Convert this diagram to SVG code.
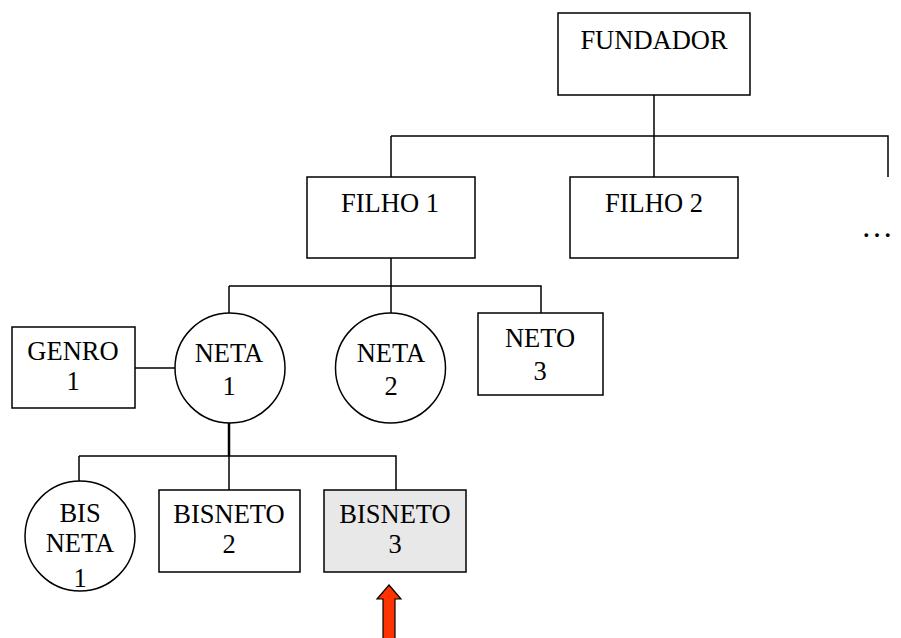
<svg xmlns="http://www.w3.org/2000/svg" width="901" height="638" viewBox="0 0 901 638">
<style>
.box{fill:#fff;stroke:#000;stroke-width:1.5}
.hl{fill:#e8e8e8;stroke:#000;stroke-width:1.5}
.ln{fill:none;stroke:#000;stroke-width:1.5}
text{font-family:"Liberation Serif","Times New Roman",serif;font-size:26.5px;fill:#000;text-anchor:middle}
</style>
<rect width="901" height="638" fill="#fff"/>
<g id="connectors">
<path class="ln" d="M654 95V136M391 136H888V177M654 136V177M391 136V177"/>
<path class="ln" d="M391 258V286M229 286H541V313M229 286V313M391 286V313"/>
<path class="ln" d="M135 368H175"/>
<path class="ln" d="M229 423V456" style="stroke-width:2.5"/>
<path class="ln" d="M79 456H396V490M79 456V481M229 456V490"/>
</g>
<g id="fundador"><rect class="box" x="558" y="13" width="192" height="82"/><text x="654" y="49">FUNDADOR</text></g>
<g id="filho1"><rect class="box" x="307" y="177" width="168" height="81"/><text x="390" y="212">FILHO 1</text></g>
<g id="filho2"><rect class="box" x="570" y="177" width="168" height="81"/><text x="654" y="212">FILHO 2</text></g>
<g id="more"><text x="877" y="237" style="font-size:32px">…</text></g>
<g id="genro1"><rect class="box" x="12" y="327" width="123" height="81"/><text x="73" y="360">GENRO</text><text x="73" y="390">1</text></g>
<g id="neta1"><circle class="box" cx="230" cy="368" r="55"/><text x="229" y="362">NETA</text><text x="229" y="395">1</text></g>
<g id="neta2"><circle class="box" cx="390.5" cy="368" r="55"/><text x="391" y="362">NETA</text><text x="391" y="395">2</text></g>
<g id="neto3"><rect class="box" x="478" y="313" width="125" height="82"/><text x="540" y="347">NETO</text><text x="540" y="380">3</text></g>
<g id="bisneta1"><circle class="box" cx="80" cy="536" r="55"/><text x="80" y="522">BIS</text><text x="80" y="552">NETA</text><text x="80" y="587">1</text></g>
<g id="bisneto2"><rect class="box" x="159" y="490" width="141" height="82"/><text x="229" y="523">BISNETO</text><text x="229" y="553">2</text></g>
<g id="bisneto3"><rect class="hl" x="324" y="490" width="142" height="82"/><text x="395" y="523">BISNETO</text><text x="395" y="553">3</text></g>
<g id="arrow"><path d="M389 585L401 599H395V640H383V599H377Z" fill="#ff3300" stroke="#000" stroke-width="1.2"/></g>
</svg>
